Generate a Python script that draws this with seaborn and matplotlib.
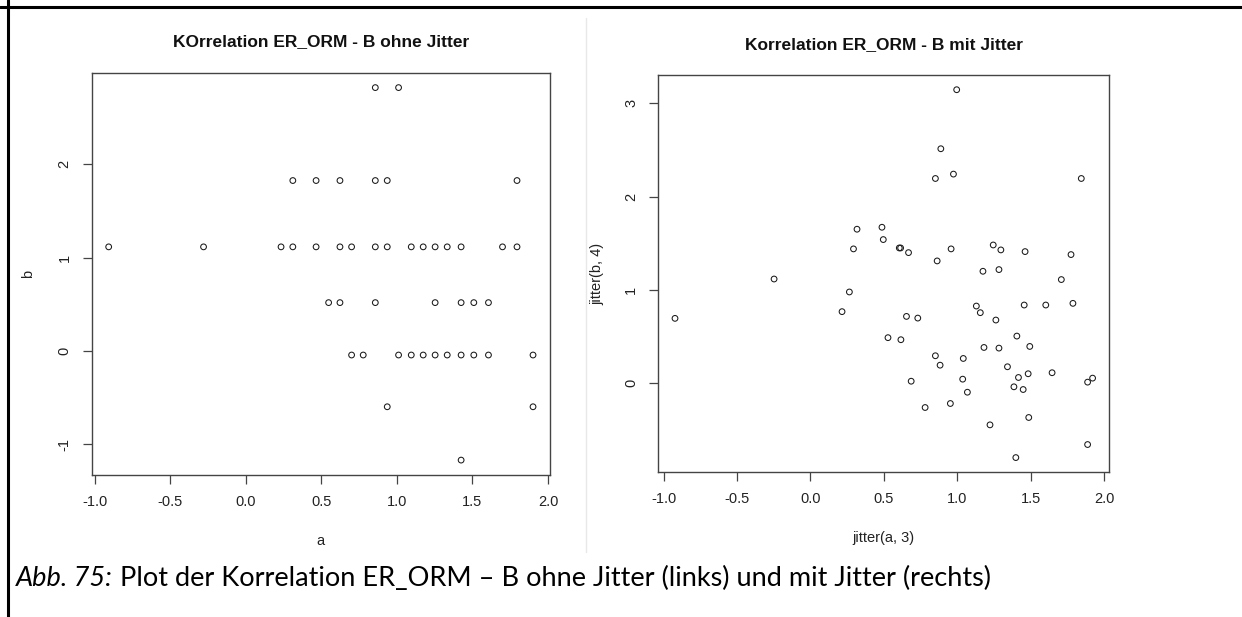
import matplotlib
matplotlib.use('Agg')
import matplotlib.pyplot as plt
from matplotlib.lines import Line2D
import seaborn as sns

a_vals = [0.857, 1.011,
          0.311, 0.465, 0.623, 0.857, 0.936, 1.795,
          -0.908, -0.280, 0.233, 0.311, 0.465, 0.623, 0.700, 0.857, 0.936,
          1.095, 1.174, 1.253, 1.333, 1.425, 1.699, 1.795,
          0.548, 0.623, 0.857, 1.253, 1.425, 1.509, 1.606,
          0.700, 0.777, 1.011, 1.095, 1.174, 1.253, 1.333, 1.425, 1.509, 1.606, 1.901,
          0.936, 1.901,
          1.425]
b_vals = [2.82] * 2 + [1.825] * 6 + [1.115] * 16 + [0.518] * 7 + [-0.043] * 11 + [-0.597] * 2 + [-1.168]

# rechts: jitter(a, 3) / jitter(b, 4)
ja_vals = [-0.923, -0.248, 0.317, 0.293, 0.265, 0.215,
           0.487, 0.496, 0.605, 0.614, 0.668, 0.863, 0.958, 0.851, 0.974, 0.888,
           0.996, 1.845, 1.245, 1.297, 1.462, 1.775, 1.175, 1.284, 1.709, 1.788,
           1.603, 1.456, 1.130, 1.157, 1.263, 0.654, 0.731, 0.528, 0.616, 1.406,
           1.494, 1.182, 1.284, 0.851, 1.041, 0.883, 1.342, 1.646, 1.483, 1.417,
           0.686, 1.037, 1.386, 1.449, 1.922, 1.888, 1.069, 0.953, 0.781, 1.487,
           1.223, 1.888, 1.399]
jb_vals = [0.695, 1.117, 1.651, 1.440, 0.978, 0.767,
           1.672, 1.540, 1.450, 1.450, 1.400, 1.311, 1.440, 2.195, 2.242, 2.514,
           3.147, 2.195, 1.482, 1.429, 1.411, 1.379, 1.200, 1.218, 1.111, 0.856,
           0.838, 0.838, 0.827, 0.756, 0.677, 0.716, 0.698, 0.488, 0.466, 0.505,
           0.394, 0.383, 0.376, 0.294, 0.265, 0.193, 0.176, 0.112, 0.101, 0.061,
           0.021, 0.043, -0.039, -0.068, 0.054, 0.011, -0.097, -0.218, -0.261, -0.368,
           -0.447, -0.658, -0.798]

x_ticks = [-1.0, -0.5, 0.0, 0.5, 1.0, 1.5, 2.0]
left_y_ticks = [-1, 0, 1, 2]
right_y_ticks = [0, 1, 2, 3]

caption_lead = 'Abb. 75:'
caption_rest = ' Plot der Korrelation ER_ORM \u2013 B ohne Jitter (links) und mit Jitter (rechts)'

sns.set_style('ticks')
plt.rcParams['font.family'] = ['Liberation Sans', 'DejaVu Sans']

W, H = 1242, 617
fig = plt.figure(figsize=(W / 100, H / 100), dpi=100)


def px_axes(x0, y0, x1, y1):
    # Pixelbox (oben links / unten rechts) -> Figure-Koordinaten
    return fig.add_axes([x0 / W, 1 - y1 / H, (x1 - x0) / W, (y1 - y0) / H])


def r_lim(v):
    # wie R: Bereich +- 4 %
    lo, hi = min(v), max(v)
    pad = 0.04 * (hi - lo)
    return lo - pad, hi + pad


def base_plot(ax, x, y, yt, title, xlabel, ylabel, ylpad):
    sns.scatterplot(x=x, y=y, ax=ax, marker='o', s=17, facecolors='none',
                    edgecolor='#1a1a1a', linewidth=0.75)
    ax.set_xlim(r_lim(x))
    ax.set_ylim(r_lim(y))
    ax.set_xticks(x_ticks)
    ax.set_xticklabels([f'{t:.1f}' for t in x_ticks])
    ax.set_yticks(yt)
    ax.set_yticklabels([str(t) for t in yt], rotation=90, va='center')
    for sp in ax.spines.values():
        sp.set_visible(True)
        sp.set_color('#444444')
        sp.set_linewidth(1.0)
    ax.tick_params(bottom=True, left=True, direction='out', length=6.5, width=0.9,
                   color='#444444', labelsize=10.5, labelcolor='#222222')
    ax.tick_params(axis='x', pad=8)
    ax.tick_params(axis='y', pad=8)
    ax.set_title(title, fontsize=12.5, fontweight='bold', pad=19, color='#111111')
    ax.set_xlabel(xlabel, fontsize=10.5, labelpad=18, color='#222222')
    ax.set_ylabel(ylabel, fontsize=10.5, labelpad=ylpad, color='#222222')


ax1 = px_axes(91.7, 72.7, 550, 475)
ax2 = px_axes(658.3, 75, 1109.3, 472.3)

base_plot(ax1, a_vals, b_vals, left_y_ticks,
          'KOrrelation ER_ORM - B ohne Jitter', 'a', 'b', 16)
base_plot(ax2, ja_vals, jb_vals, right_y_ticks,
          'Korrelation ER_ORM - B mit Jitter', 'jitter(a, 3)', 'jitter(b, 4)', 14)

# Rahmen + Trennlinie
fig.add_artist(Line2D([0, 1], [1 - 6.5 / H] * 2, transform=fig.transFigure,
                      color='black', lw=2.2))
fig.add_artist(Line2D([7.5 / W] * 2, [0, 1], transform=fig.transFigure,
                      color='black', lw=2.2))
fig.add_artist(Line2D([586 / W] * 2, [1 - 552 / H, 1 - 18 / H],
                      transform=fig.transFigure, color='#e8e8e8', lw=1))

# Bildunterschrift: kursiver Teil + Rest, Breite auf ~975 px angepasst
cap_font = ['Lato', 'DejaVu Sans']
cap_size = 17
t1 = fig.text(16 / W, 1 - 586 / H, caption_lead, fontsize=cap_size,
              style='italic', family=cap_font, va='baseline', color='black')
t2 = fig.text(0, 0, caption_rest, fontsize=cap_size, family=cap_font,
              va='baseline', color='black')
fig.canvas.draw()
r = fig.canvas.get_renderer()
w_total = t1.get_window_extent(r).width + t2.get_window_extent(r).width
cap_size = cap_size * 975 / w_total
t1.set_fontsize(cap_size)
t2.set_fontsize(cap_size)
fig.canvas.draw()
bb1 = t1.get_window_extent(r)
t2.set_position((bb1.x1 / W, 1 - 586 / H))

fig.savefig('out.png', dpi=100)
